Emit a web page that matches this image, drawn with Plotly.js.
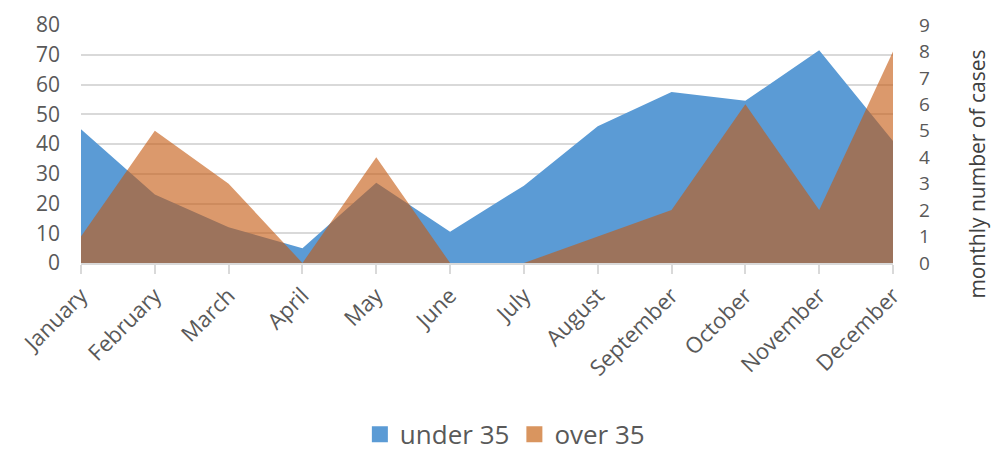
<!DOCTYPE html>
<html>
<head>
<meta charset="utf-8">
<script src="https://cdn.plot.ly/plotly-3.0.1.min.js"></script>
<style>
  html, body { margin: 0; padding: 0; background: #fff; }
  #chart { width: 991px; height: 452px; }
</style>
</head>
<body>
<div id="chart"></div>
<script>
// Monthly cases by age group
const months = ["January", "February", "March", "April", "May", "June",
                "July", "August", "September", "October", "November", "December"];
const under35 = [45, 23, 12, 5, 27, 10.5, 26, 46, 57.5, 54.5, 71.5, 41];  // left axis
const over35  = [1, 5, 3, 0, 4, 0, 0, 1, 2, 6, 2, 8];                    // right axis
const leftTicks  = [0, 10, 20, 30, 40, 50, 60, 70, 80];
const rightTicks = [0, 1, 2, 3, 4, 5, 6, 7, 8, 9];

const BLUE = "#5B9BD5";
const ORANGE_FILL = "rgba(197,90,17,0.62)";
const ORANGE_KEY = "#D9955F";
const GRID = "#D9D9D9";
const TXT = "#595959";
const FONT = "Open Sans, Noto Sans, sans-serif";

const traces = [
  {
    name: "under 35", x: months, y: under35, type: "scatter", mode: "none",
    fill: "tozeroy", fillcolor: BLUE, yaxis: "y", showlegend: false, hoverinfo: "x+y"
  },
  {
    name: "over 35", x: months, y: over35, type: "scatter", mode: "none",
    fill: "tozeroy", fillcolor: ORANGE_FILL, yaxis: "y2", showlegend: false, hoverinfo: "x+y"
  },
  // legend keys
  {
    name: "under 35", x: [null], y: [null], type: "scatter", mode: "markers",
    marker: { symbol: "square", size: 16, color: BLUE }, yaxis: "y", showlegend: true
  },
  {
    name: "over 35", x: [null], y: [null], type: "scatter", mode: "markers",
    marker: { symbol: "square", size: 16, color: ORANGE_KEY }, yaxis: "y2", showlegend: true
  }
];

const layout = {
  width: 991, height: 452,
  margin: { l: 81, r: 98, t: 25, b: 189, pad: 0, autoexpand: false },
  paper_bgcolor: "#fff", plot_bgcolor: "#fff",
  font: { family: FONT, color: TXT, size: 21 },
  showlegend: true,
  legend: {
    orientation: "h", x: 0.522, xanchor: "center", y: -0.72, yanchor: "middle",
    font: { family: FONT, size: 26, color: TXT }, itemwidth: 30, tracegroupgap: 0,
    bgcolor: "rgba(0,0,0,0)"
  },
  xaxis: {
    type: "category", categoryarray: months, range: [0, 11], automargin: false,
    showgrid: false, zeroline: false,
    showline: true, linecolor: GRID, linewidth: 2,
    ticks: "outside", ticklen: 9, tickcolor: GRID, tickwidth: 2,
    tickangle: -45, tickfont: { family: FONT, size: 22, color: TXT }
  },
  yaxis: {
    range: [0, 80], tickvals: leftTicks, ticktext: leftTicks.map(String), automargin: false,
    showgrid: true, gridcolor: GRID, gridwidth: 2, zeroline: false,
    showline: false, ticks: "", ticklabelstandoff: 20,
    tickfont: { family: FONT, size: 21, color: TXT }
  },
  yaxis2: {
    overlaying: "y", side: "right", range: [0, 9], automargin: false,
    tickvals: rightTicks, ticktext: rightTicks.map(String),
    showgrid: false, zeroline: false, showline: false, ticks: "",
    ticklabelstandoff: 25,
    tickfont: { family: FONT, size: 19, color: TXT }
  },
  annotations: [{
    text: "monthly number of cases", textangle: -90,
    xref: "paper", yref: "paper", x: 1.103, y: 0.374,
    xanchor: "center", yanchor: "middle", showarrow: false,
    font: { family: FONT, size: 21, color: "#404040" }
  }]
};

Plotly.newPlot("chart", traces, layout, { displayModeBar: false, staticPlot: true });
</script>
</body>
</html>
